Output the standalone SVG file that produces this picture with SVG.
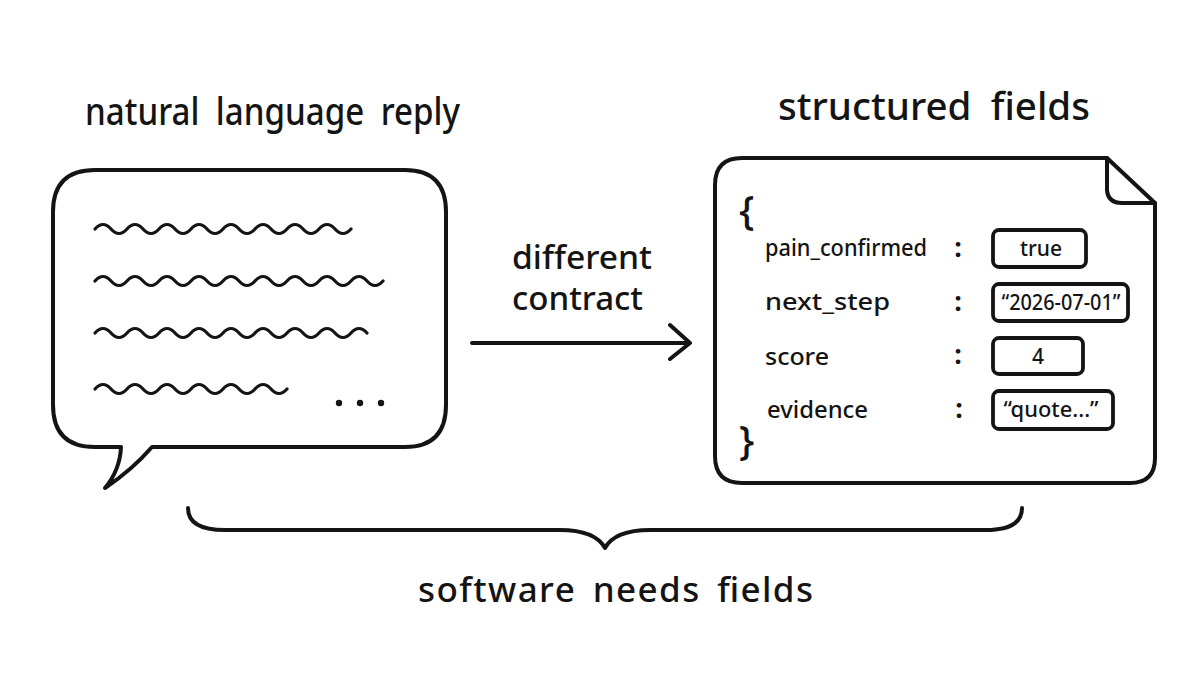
<svg xmlns="http://www.w3.org/2000/svg" width="1200" height="675" viewBox="0 0 1200 675">
<style>
.s{fill:none;stroke:#141414;stroke-width:4;stroke-linecap:round;stroke-linejoin:round}
.w{fill:none;stroke:#141414;stroke-width:3.2;stroke-linecap:round}
.t{font-family:"Noto Sans","DejaVu Sans",sans-serif;fill:#141414;font-weight:500}
.h{font-size:38px;word-spacing:9px}
.f{font-size:24px}
.c{font-size:27px;font-weight:700;text-anchor:middle}
.v{font-size:21px;text-anchor:middle}
.box{fill:#fff;stroke:#141414;stroke-width:3.8}
</style>
<rect width="1200" height="675" fill="#fff"/>
<text class="t h" x="85" y="125" textLength="375" lengthAdjust="spacingAndGlyphs">natural language reply</text>
<text class="t h" x="778" y="120" textLength="312" lengthAdjust="spacingAndGlyphs">structured fields</text>

<g id="reply">
<path class="s" d="M95 170 H405 Q446 170 446 212 V405 Q446 447 405 447 H152 Q132 470 105 488 Q120 470 121 447 H95 Q53 447 53 405 V212 Q53 170 95 170 Z" fill="#fff"/>
<path class="w" d="M95 229 q8 -9 16 0 t16 0 t16 0 t16 0 t16 0 t16 0 t16 0 t16 0 t16 0 t16 0 t16 0 t16 0 t16 0 t16 0 t16 0 t16 0"/>
<path class="w" d="M95 281 q8 -9 16 0 t16 0 t16 0 t16 0 t16 0 t16 0 t16 0 t16 0 t16 0 t16 0 t16 0 t16 0 t16 0 t16 0 t16 0 t16 0 t16 0 t16 0"/>
<path class="w" d="M95 333 q8 -9 16 0 t16 0 t16 0 t16 0 t16 0 t16 0 t16 0 t16 0 t16 0 t16 0 t16 0 t16 0 t16 0 t16 0 t16 0 t16 0 t16 0"/>
<path class="w" d="M95 389 q8 -9 16 0 t16 0 t16 0 t16 0 t16 0 t16 0 t16 0 t16 0 t16 0 t16 0 t16 0 t16 0"/>
<circle cx="339" cy="403" r="3.2" fill="#141414"/>
<circle cx="360" cy="403" r="3.2" fill="#141414"/>
<circle cx="381" cy="403" r="3.2" fill="#141414"/>
</g>

<g id="fields">
<path class="s" d="M742 158 H1107 L1155 203 V458 Q1155 483 1130 483 H742 Q715 483 715 456 V185 Q715 158 742 158 Z" fill="#fff"/>
<path class="s" d="M1107 158 V190 Q1108 203 1122 203 H1155"/>
<text class="t" x="739" y="225" font-size="40">{</text>
<text class="t" x="739" y="455" font-size="40">}</text>
<text class="t f" x="765" y="256" textLength="162" lengthAdjust="spacingAndGlyphs">pain_confirmed</text>
<text class="t f" x="765" y="310" textLength="125" lengthAdjust="spacingAndGlyphs">next_step</text>
<text class="t f" x="765" y="365" textLength="64" lengthAdjust="spacingAndGlyphs">score</text>
<text class="t f" x="767" y="418" textLength="101" lengthAdjust="spacingAndGlyphs">evidence</text>
<g class="t c"><text x="958" y="257">:</text><text x="958" y="311">:</text><text x="958" y="364">:</text><text x="959" y="418">:</text></g>
<rect class="box" x="993" y="230" width="93" height="37" rx="6"/>
<text class="t v" x="1041" y="256">true</text>
<rect class="box" x="993" y="284" width="135" height="37" rx="6"/>
<text class="t v" x="1061" y="310" textLength="119" lengthAdjust="spacingAndGlyphs">“2026-07-01”</text>
<rect class="box" x="993" y="338" width="90" height="36" rx="6"/>
<text class="t v" x="1038" y="364">4</text>
<rect class="box" x="993" y="391" width="120" height="38" rx="6"/>
<text class="t v" x="1051" y="417" textLength="95" lengthAdjust="spacingAndGlyphs">“quote...”</text>
</g>

<g id="connectors">
<path class="s" d="M472 343 H689 M670 325 L690 343 L670 359"/>
<path class="s" d="M188 508 Q188 530 225 530 H560 Q595 530 605 548 Q615 530 650 530 H985 Q1022 530 1022 508"/>
</g>
<text class="t" x="512" y="269" font-size="32" textLength="140" lengthAdjust="spacingAndGlyphs">different</text>
<text class="t" x="512" y="310" font-size="32" textLength="131" lengthAdjust="spacingAndGlyphs">contract</text>
<text class="t" x="418" y="602" font-size="35" textLength="395" lengthAdjust="spacing" word-spacing="6">software needs fields</text>
</svg>
